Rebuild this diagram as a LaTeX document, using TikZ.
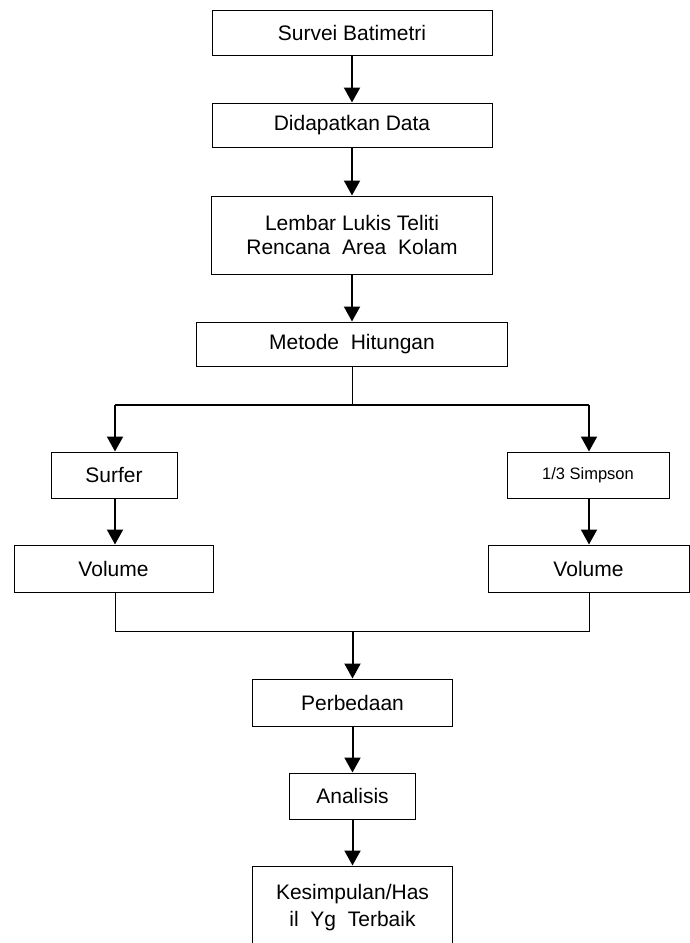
\documentclass[tikz,border=0pt]{standalone}
\usepackage{fontspec}
\setmainfont{Liberation Sans}
\usetikzlibrary{arrows.meta}
\begin{document}
\begin{tikzpicture}[x=1pt,y=-1pt,
    box/.style={draw,line width=1pt,align=center,inner sep=0pt,font=\fontsize{21}{24}\selectfont},
    arr/.style={line width=2pt,-{Triangle[length=15pt,width=16pt]}},
    ln/.style={line width=1pt}]
    \useasboundingbox (0,0) rectangle (690,943);
    \node[box,minimum width=280pt,minimum height=45pt] (survei) at (352,32.5) {Survei Batimetri};
    \node[box,minimum width=280pt,minimum height=44pt] (data) at (352,125) {Didapatkan Data};
    \node[box,minimum width=281pt,minimum height=78pt] (lembar) at (352,235) {Lembar Lukis Teliti\\Rencana\ \ Area\ \ Kolam};
    \node[box,minimum width=311pt,minimum height=44pt] (metode) at (352,344) {Metode\ \ Hitungan};
    \node[box,minimum width=126pt,minimum height=46pt] (surfer) at (114,475) {Surfer};
    \node[box,minimum width=162pt,minimum height=46pt,font=\fontsize{16.5}{19}\selectfont] (simpson) at (588,475) {1/3 Simpson};
    \node[box,minimum width=199pt,minimum height=47pt] (volkiri) at (113.5,568.5) {Volume};
    \node[box,minimum width=201pt,minimum height=47pt] (volkanan) at (588.5,568.5) {Volume};
    \node[box,minimum width=200pt,minimum height=47pt] (beda) at (352.5,702.5) {Perbedaan};
    \node[box,minimum width=126pt,minimum height=46pt] (analisis) at (352.5,796) {Analisis};
    \node[box,minimum width=200pt,minimum height=84pt,font=\fontsize{21}{27}\selectfont] (hasil) at (352.5,908) {Kesimpulan/Has\\il\ \ Yg\ \ Terbaik};
    % cabang
    \coordinate (cabang) at (352,405);
    \coordinate (cabangkiri) at (115,405);
    \coordinate (cabangkanan) at (589,405);
    \coordinate (gabung) at (352.5,631);
    \coordinate (gabungkiri) at (115,631);
    \coordinate (gabungkanan) at (589,631);
    \draw[arr] (survei) -- (data);
    \draw[arr] (data) -- (lembar);
    \draw[arr] (lembar) -- (metode);
    \draw[ln] (metode) -- (cabang);
    \draw[line width=2pt] (cabangkiri) -- (cabangkanan);
    \draw[arr] (cabangkiri) -- (cabangkiri |- surfer.north);
    \draw[arr] (cabangkanan) -- (cabangkanan |- simpson.north);
    \draw[arr] (surfer.south -| cabangkiri) -- (cabangkiri |- volkiri.north);
    \draw[arr] (simpson.south -| cabangkanan) -- (cabangkanan |- volkanan.north);
    \draw[ln] (volkiri.south -| gabungkiri) -- (gabungkiri) -- (gabungkanan) -- (volkanan.south -| gabungkanan);
    \draw[arr] (gabung) -- (beda);
    \draw[arr] (beda) -- (analisis);
    \draw[arr] (analisis) -- (hasil);
\end{tikzpicture}
\end{document}
